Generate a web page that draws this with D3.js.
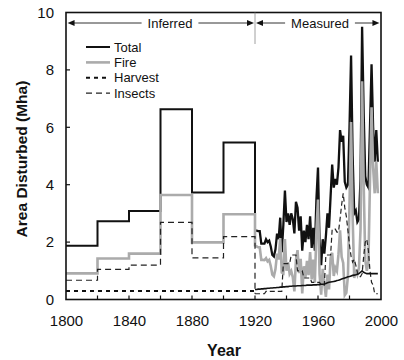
<!DOCTYPE html>
<html><head><meta charset="utf-8">
<script src="https://cdn.jsdelivr.net/npm/d3@7"></script>
<style>
html,body{margin:0;padding:0;background:#fff;}
svg{display:block;font-family:"Liberation Sans",Arial,Helvetica,sans-serif;}
</style></head>
<body>
<svg id="chart" width="404" height="360"></svg>
<script>
// ---- Data ----
const inferredYears = [1800, 1820, 1840, 1860, 1880, 1900];
const inferredTotal = [1.87, 2.73, 3.08, 6.63, 3.73, 5.47];
const inferredFire = [0.91, 1.43, 1.60, 3.64, 1.99, 2.97];
const inferredInsects = [0.67, 1.05, 1.20, 2.69, 1.45, 2.19];
const inferredHarvest = [0.30, 0.30, 0.30, 0.30, 0.30, 0.30];

const measuredStart = 1920;
const measuredTotal = [
  2.40,2.40,2.38,2.38,1.95,1.95,1.95,2.10,2.00,2.05,
  1.85,1.55,1.50,1.75,2.30,2.10,2.85,1.65,2.60,3.80,
  2.70,3.00,2.60,3.00,2.80,2.30,3.40,3.20,2.40,2.90,
  1.70,2.40,2.00,2.60,2.10,2.90,1.80,2.50,1.70,3.50,
  4.60,2.00,1.20,2.10,1.60,2.20,3.00,2.50,3.60,4.70,
  3.90,4.20,4.00,4.60,5.90,5.50,5.70,4.10,3.90,4.00,
  6.00,8.50,5.00,3.00,3.10,2.70,2.80,4.20,9.50,6.50,
  4.30,4.00,3.90,6.00,8.20,6.00,4.80,5.90,4.80];
const measuredFire = [
  1.85,1.85,1.82,1.82,1.38,1.38,1.37,1.44,1.33,1.38,
  1.17,0.87,0.81,1.06,1.60,1.40,2.14,0.94,0.91,2.11,
  1.00,1.30,0.89,0.99,0.78,0.28,1.38,1.72,0.92,1.42,
  0.21,1.16,0.76,1.35,0.85,1.65,0.70,1.39,0.59,2.39,
  3.48,0.88,0.17,1.07,0.56,0.09,0.87,0.35,1.44,1.63,
  0.82,1.11,0.99,1.58,2.41,1.49,1.27,0.15,0.23,0.81,
  3.30,6.18,2.86,0.75,1.04,0.87,1.10,2.45,7.60,4.05,
  1.38,1.00,1.30,4.10,6.70,4.60,3.70,4.80,3.70];
const measuredInsects = [
  0.20,0.20,0.20,0.20,0.20,0.20,0.20,0.28,0.28,0.28,
  0.28,0.28,0.28,0.28,0.28,0.28,0.28,0.28,1.25,1.25,
  1.25,1.25,1.25,1.55,1.55,1.55,1.55,1.00,1.00,1.00,
  1.00,0.75,0.75,0.75,0.75,0.75,0.60,0.60,0.60,0.60,
  0.60,0.60,0.50,0.50,0.50,1.55,1.55,1.55,1.55,2.45,
  2.45,2.45,2.35,2.35,2.80,3.30,3.70,3.20,2.90,2.40,
  1.90,1.50,1.30,1.40,1.20,0.95,0.80,0.80,0.90,1.50,
  2.00,2.10,1.70,1.00,0.60,0.50,0.20,0.20,0.20];
const measuredHarvest = [
  0.35,0.35,0.36,0.36,0.37,0.37,0.38,0.38,0.39,0.39,
  0.40,0.40,0.41,0.41,0.42,0.42,0.43,0.43,0.44,0.44,
  0.45,0.45,0.46,0.46,0.47,0.47,0.47,0.48,0.48,0.48,
  0.49,0.49,0.49,0.50,0.50,0.50,0.50,0.51,0.51,0.51,
  0.52,0.52,0.53,0.53,0.54,0.56,0.58,0.60,0.61,0.62,
  0.63,0.64,0.66,0.67,0.69,0.71,0.73,0.75,0.77,0.79,
  0.80,0.82,0.84,0.85,0.86,0.88,0.90,0.95,1.00,0.95,
  0.92,0.90,0.90,0.90,0.90,0.90,0.90,0.90,0.90];

const xTicks = [1800, 1840, 1880, 1920, 1960, 2000];
const xMinorTicks = [1820, 1840, 1860, 1880, 1900, 1920, 1940, 1960, 1980];
const yTicks = [0, 2, 4, 6, 8, 10];
const legendLabels = ["Total", "Fire", "Harvest", "Insects"];
const periodLabels = ["Inferred", "Measured"];

// ---- Layout ----
const svg = d3.select("#chart");
const L = 66, R = 381, T = 12.5, B = 299.5;
const x = d3.scaleLinear().domain([1800, 2000]).range([L, R]);
const y = d3.scaleLinear().domain([0, 10]).range([B, T]);

const styles = {
  Total:   {stroke: "#111", width: 2, dash: null},
  Fire:    {stroke: "#ababab", width: 2.6, dash: null},
  Harvest: {stroke: "#111", width: 2, dash: "4,4"},
  Insects: {stroke: "#222", width: 1.2, dash: "6,4"}
};

const measuredYears = measuredTotal.map((d, i) => measuredStart + i);
function inferredPts(vals, nextVal) {
  const p = inferredYears.map((yr, i) => [yr, vals[i]]);
  p.push([measuredStart, nextVal]);
  return p;
}
function measuredPts(vals) { return vals.map((v, i) => [measuredYears[i], v]); }

const stepLine = d3.line().x(d => x(d[0])).y(d => y(d[1])).curve(d3.curveStepAfter);
const linLine = d3.line().x(d => x(d[0])).y(d => y(d[1]));

const g = svg.append("g");

function draw(path, s, dash) {
  g.append("path").attr("d", path).attr("fill", "none")
    .attr("stroke", s.stroke).attr("stroke-width", s.width)
    .attr("stroke-dasharray", dash === undefined ? s.dash : dash)
    .attr("stroke-linejoin", "miter");
}
// Total
draw(stepLine(inferredPts(inferredTotal, measuredTotal[0])), styles.Total);
draw(linLine(measuredPts(measuredTotal)), {stroke:"#111", width:2.3}, null);
// Fire
draw(stepLine(inferredPts(inferredFire, measuredFire[0])), styles.Fire);
draw(linLine(measuredPts(measuredFire)), styles.Fire, null);
// Insects
draw(stepLine(inferredPts(inferredInsects, measuredInsects[0])), styles.Insects);
draw(linLine(measuredPts(measuredInsects)), {stroke:"#222", width:1.2}, "5,3");
// Harvest
draw(stepLine(inferredPts(inferredHarvest, inferredHarvest[5])), styles.Harvest);
draw(linLine(measuredPts(measuredHarvest)), {stroke:"#111", width:1.6}, null);

// ---- Frame & axes ----
svg.append("rect").attr("x", L).attr("y", T).attr("width", R - L).attr("height", B - T)
  .attr("fill", "none").attr("stroke", "#111").attr("stroke-width", 1.6);

const xAxis = d3.axisBottom(x).tickValues(xTicks).tickFormat(d3.format("d")).tickSize(0).tickPadding(16);
const xa = svg.append("g").attr("transform", `translate(0,${B})`).call(xAxis);
xa.select(".domain").remove();
xa.selectAll("text").attr("font-size", 15).attr("fill", "#111").attr("font-family", "Liberation Sans, Arial, sans-serif");

svg.append("g").selectAll("line").data(xMinorTicks).join("line")
  .attr("x1", d => x(d)).attr("x2", d => x(d)).attr("y1", B).attr("y2", B - 4)
  .attr("stroke", "#111").attr("stroke-width", 1.2);

const yAxis = d3.axisLeft(y).tickValues(yTicks).tickSize(0).tickPadding(12);
const ya = svg.append("g").attr("transform", `translate(${L},0)`).call(yAxis);
ya.select(".domain").remove();
ya.selectAll("text").attr("font-size", 15).attr("fill", "#111").attr("font-family", "Liberation Sans, Arial, sans-serif");

svg.append("g").selectAll("line").data(yTicks.slice(1, -1)).join("line")
  .attr("x1", L).attr("x2", L + 4).attr("y1", d => y(d)).attr("y2", d => y(d))
  .attr("stroke", "#111").attr("stroke-width", 1.2);

// Axis titles
svg.append("text").attr("x", 224).attr("y", 356).attr("text-anchor", "middle")
  .attr("font-weight", "bold").attr("font-size", 16).attr("fill", "#111").text("Year");
svg.append("text").attr("transform", "translate(27,159) rotate(-90)").attr("text-anchor", "middle")
  .attr("font-weight", "bold").attr("font-size", 15.5).attr("fill", "#111").text("Area Disturbed (Mha)");

// ---- Legend ----
const lg = svg.append("g");
legendLabels.forEach((lab, i) => {
  const s = styles[lab];
  const yy = 47 + i * 15.4;
  lg.append("line").attr("x1", 86).attr("x2", 110).attr("y1", yy).attr("y2", yy)
    .attr("stroke", s.stroke).attr("stroke-width", s.width).attr("stroke-dasharray", s.dash);
  lg.append("text").attr("x", 114).attr("y", yy + 4.6).attr("font-size", 13).attr("fill", "#111").text(lab);
});

// ---- Period annotations ----
svg.append("line").attr("x1", x(1920)).attr("x2", x(1920)).attr("y1", T).attr("y2", 44)
  .attr("stroke", "#888").attr("stroke-width", 0.8);
const ay = 23;
function arrowSeg(x1, x2, label, cx) {
  const t = svg.append("text").attr("x", cx).attr("y", ay + 4.5).attr("text-anchor", "middle")
    .attr("font-size", 13).attr("fill", "#111").text(label);
  const bb = t.node().getBBox();
  svg.append("line").attr("x1", x1 + 5).attr("x2", bb.x - 6).attr("y1", ay).attr("y2", ay).attr("stroke", "#333").attr("stroke-width", 1);
  svg.append("line").attr("x1", bb.x + bb.width + 6).attr("x2", x2 - 5).attr("y1", ay).attr("y2", ay).attr("stroke", "#333").attr("stroke-width", 1);
  svg.append("path").attr("d", `M${x1},${ay}L${x1 + 7},${ay - 3}L${x1 + 7},${ay + 3}Z`).attr("fill", "#111");
  svg.append("path").attr("d", `M${x2},${ay}L${x2 - 7},${ay - 3}L${x2 - 7},${ay + 3}Z`).attr("fill", "#111");
}
arrowSeg(x(1801), x(1920) - 1, periodLabels[0], 170);
arrowSeg(x(1920) + 1, x(1999), periodLabels[1], 320);
</script>
</body></html>
